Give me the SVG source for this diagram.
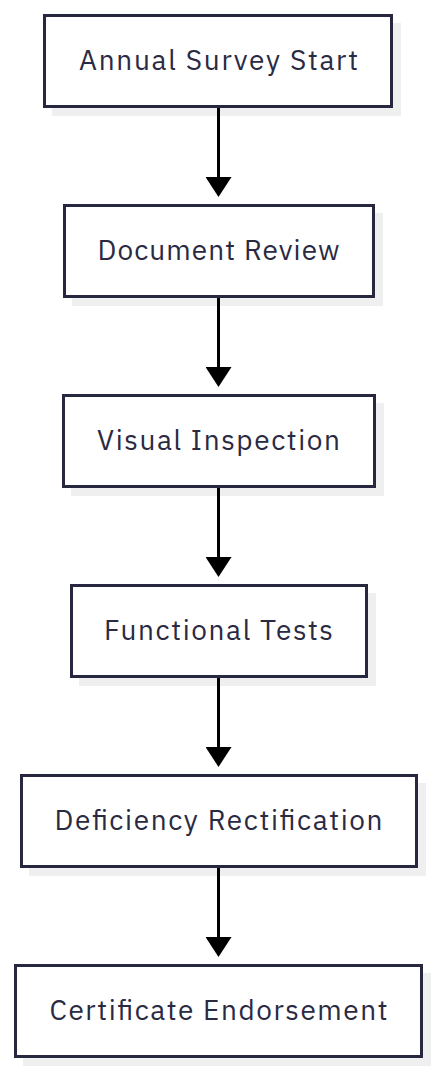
<svg xmlns="http://www.w3.org/2000/svg" width="437" height="1072" viewBox="0 0 437 1072">
<style>
.shadow{fill:#efefef;}
.box{fill:#ffffff;stroke:#27273f;stroke-width:3;}
.lbl{font-family:"IBM Plex Sans","Noto Sans","Liberation Sans",sans-serif;font-size:28px;fill:#2a2a42;text-anchor:middle;}
.edge{stroke:#000000;stroke-width:3;fill:none;}
</style>
<defs>
<marker id="arr" viewBox="0 0 20 26" refX="0" refY="13" markerWidth="20" markerHeight="26" markerUnits="userSpaceOnUse" orient="auto">
<path d="M0,0 L20,13 L0,26 Z" fill="#000000"/>
</marker>
</defs>
<rect width="437" height="1072" fill="#ffffff"/>
<g id="n1">
<rect class="shadow" x="52" y="23" width="349" height="93"/>
<rect class="box" x="44.5" y="15.5" width="347" height="91"/>
<text class="lbl" x="218.5" y="70" textLength="279">Annual Survey Start</text>
</g>
<g id="n2">
<rect class="shadow" x="72" y="213" width="311" height="93"/>
<rect class="box" x="64.5" y="205.5" width="309" height="91"/>
<text class="lbl" x="218.5" y="260" textLength="242">Document Review</text>
</g>
<g id="n3">
<rect class="shadow" x="71" y="403" width="313" height="93"/>
<rect class="box" x="63.5" y="395.5" width="311" height="91"/>
<text class="lbl" x="218.5" y="450" textLength="243">Visual Inspection</text>
</g>
<g id="n4">
<rect class="shadow" x="79" y="593" width="297" height="93"/>
<rect class="box" x="71.5" y="585.5" width="295" height="91"/>
<text class="lbl" x="218.5" y="640" textLength="229">Functional Tests</text>
</g>
<g id="n5">
<rect class="shadow" x="29" y="783" width="397" height="93"/>
<rect class="box" x="21.5" y="775.5" width="395" height="91"/>
<text class="lbl" x="218.5" y="830" textLength="328">Deficiency Rectification</text>
</g>
<g id="n6">
<rect class="shadow" x="23" y="973" width="408" height="93"/>
<rect class="box" x="15.5" y="965.5" width="406" height="91"/>
<text class="lbl" x="218.5" y="1020" textLength="338">Certificate Endorsement</text>
</g>
<g id="connectors">
<line class="edge" x1="218.5" y1="108" x2="218.5" y2="177" marker-end="url(#arr)"/>
<line class="edge" x1="218.5" y1="298" x2="218.5" y2="367" marker-end="url(#arr)"/>
<line class="edge" x1="218.5" y1="488" x2="218.5" y2="557" marker-end="url(#arr)"/>
<line class="edge" x1="218.5" y1="678" x2="218.5" y2="747" marker-end="url(#arr)"/>
<line class="edge" x1="218.5" y1="868" x2="218.5" y2="937" marker-end="url(#arr)"/>
</g>
</svg>
